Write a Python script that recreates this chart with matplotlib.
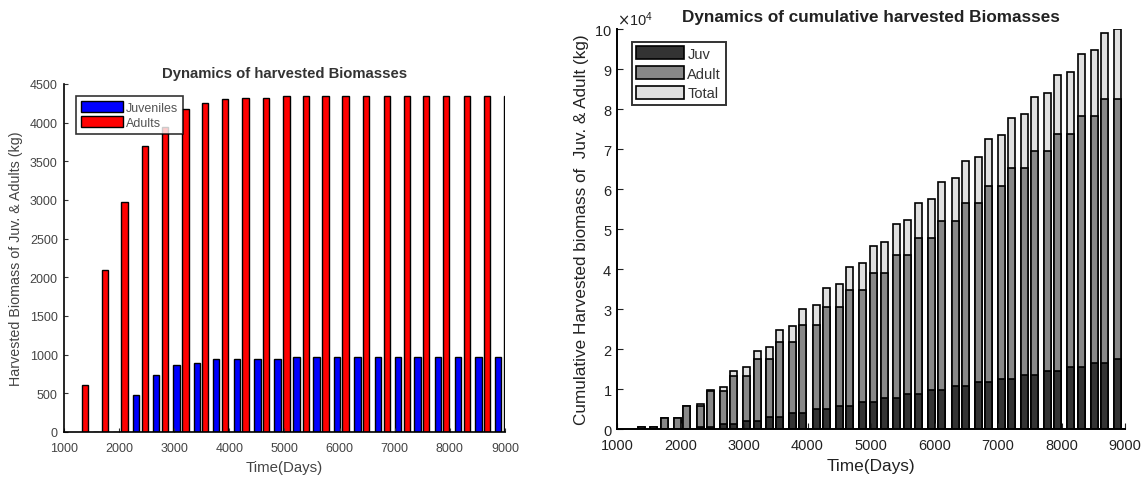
import numpy as np
import matplotlib
matplotlib.use('Agg')
import matplotlib.pyplot as plt
from matplotlib.ticker import ScalarFormatter

plt.rcParams['font.family'] = ['Liberation Sans', 'DejaVu Sans']

# harvest times (days): adults harvested first, juveniles about half a year later
adult_days = [1382, 1748, 2096, 2470, 2838, 3207, 3564, 3922, 4296, 4664, 5036,
              5396, 5748, 6110, 6484, 6855, 7218, 7572, 7935, 8307, 8675, 9040]
juv_days = [1577, 1946, 2308, 2672, 3044, 3409, 3761, 4136, 4510, 4873, 5219,
            5582, 5956, 6324, 6695, 7057, 7412, 7782, 8147, 8521, 8877]

# harvested biomass per event (kg)
adult_kg = [610, 2100, 2980, 3700, 3950, 4180, 4250, 4300, 4320, 4320, 4350,
            4350, 4350, 4350, 4350, 4350, 4350, 4350, 4350, 4350, 4350, 4350]
juv_kg = [0, 0, 480, 740, 870, 890, 950, 950, 950, 950, 970,
          970, 970, 970, 970, 970, 970, 970, 970, 970, 970]

xticks = np.arange(1000, 9001, 1000)

fig = plt.figure(figsize=(11.46, 4.81), dpi=100)

# ---- left panel: harvested biomass per event
ax1 = fig.add_axes([0.0558, 0.0998, 0.3848, 0.7235])
ax1.bar(juv_days, juv_kg, width=115, color='#0000ff', edgecolor='black',
        linewidth=1, label='Juveniles')
ax1.bar(adult_days, adult_kg, width=115, color='#ff0000', edgecolor='black',
        linewidth=1, label='Adults')
ax1.set_xlim(1000, 9000)
ax1.set_ylim(0, 4500)
ax1.set_xticks(xticks)
ax1.set_yticks(np.arange(0, 4501, 500))
ax1.tick_params(direction='in', labelsize=9, length=3, colors='#333333',
                labelcolor='#444444')
ax1.tick_params(axis='x', pad=7.5)
ax1.tick_params(axis='y', pad=4.5)
for s in ['top', 'right']:
    ax1.spines[s].set_visible(False)
for s in ['left', 'bottom']:
    ax1.spines[s].set_linewidth(1.2)
ax1.set_title('Dynamics of harvested Biomasses', fontsize=10.7,
              fontweight='bold', color='#333333', pad=5)
ax1.set_xlabel('Time(Days)', fontsize=10.8, color='#444444', labelpad=4)
ax1.set_ylabel('Harvested Biomass of Juv. & Adults (kg)', fontsize=10.3,
               color='#444444', labelpad=5)
leg1 = ax1.legend(loc='upper left', bbox_to_anchor=(0.027, 0.966),
                  borderaxespad=0, fontsize=9, fancybox=False,
                  handlelength=3.4, handleheight=1.0, labelspacing=0.2,
                  borderpad=0.4, handletextpad=0.2, labelcolor='#555555')
leg1.get_frame().set_edgecolor('black')
leg1.get_frame().set_linewidth(1.2)

# ---- right panel: cumulative harvested biomass
events = sorted([(d, 'a', v) for d, v in zip(adult_days, adult_kg)] +
                [(d, 'j', v) for d, v in zip(juv_days, juv_kg)])
days = np.array([e[0] for e in events])
cum_adult = np.cumsum([e[2] if e[1] == 'a' else 0 for e in events])
cum_juv = np.cumsum([e[2] if e[1] == 'j' else 0 for e in events])
cum_total = cum_adult + cum_juv
keep = days < 9000

ax2 = fig.add_axes([0.5384, 0.106, 0.4433, 0.8316])
ax2.bar(days[keep], cum_total[keep], width=110, color='#e0e0e0',
        edgecolor='black', linewidth=1.2, label='Total')
ax2.bar(days[keep], cum_adult[keep], width=110, color='#888888',
        edgecolor='black', linewidth=1.2, label='Adult')
ax2.bar(days[keep], cum_juv[keep], width=110, color='#333333',
        edgecolor='black', linewidth=1.2, label='Juv')
ax2.set_xlim(1000, 9000)
ax2.set_ylim(0, 100000)
ax2.set_xticks(xticks)
ax2.set_yticks(np.arange(0, 100001, 10000))
fmt = ScalarFormatter(useMathText=True)
fmt.set_powerlimits((4, 4))
ax2.yaxis.set_major_formatter(fmt)
ax2.yaxis.get_offset_text().set_fontsize(10.5)
ax2.tick_params(direction='in', labelsize=10.5, length=4, colors='#222222')
ax2.tick_params(axis='x', pad=6.5)
for s in ['top', 'right']:
    ax2.spines[s].set_visible(False)
for s in ['left', 'bottom']:
    ax2.spines[s].set_linewidth(1.4)
ax2.set_title('Dynamics of cumulative harvested Biomasses', fontsize=12.3,
              fontweight='bold', color='#222222', pad=6)
ax2.set_xlabel('Time(Days)', fontsize=12.4, color='#222222', labelpad=4)
ax2.set_ylabel('Cumulative Harvested biomass of  Juv. & Adult (kg)',
               fontsize=12.3, color='#222222', labelpad=4)
h, l = ax2.get_legend_handles_labels()
leg2 = ax2.legend(h[::-1], l[::-1], loc='upper left',
                  bbox_to_anchor=(0.0295, 0.9675), borderaxespad=0,
                  fontsize=10.5, fancybox=False, handlelength=3.3,
                  handleheight=1.0, labelspacing=0.35, borderpad=0.3,
                  handletextpad=0.2, labelcolor='#333333')
leg2.get_frame().set_edgecolor('black')
leg2.get_frame().set_linewidth(1.4)

fig.savefig('out.png', dpi=100)
